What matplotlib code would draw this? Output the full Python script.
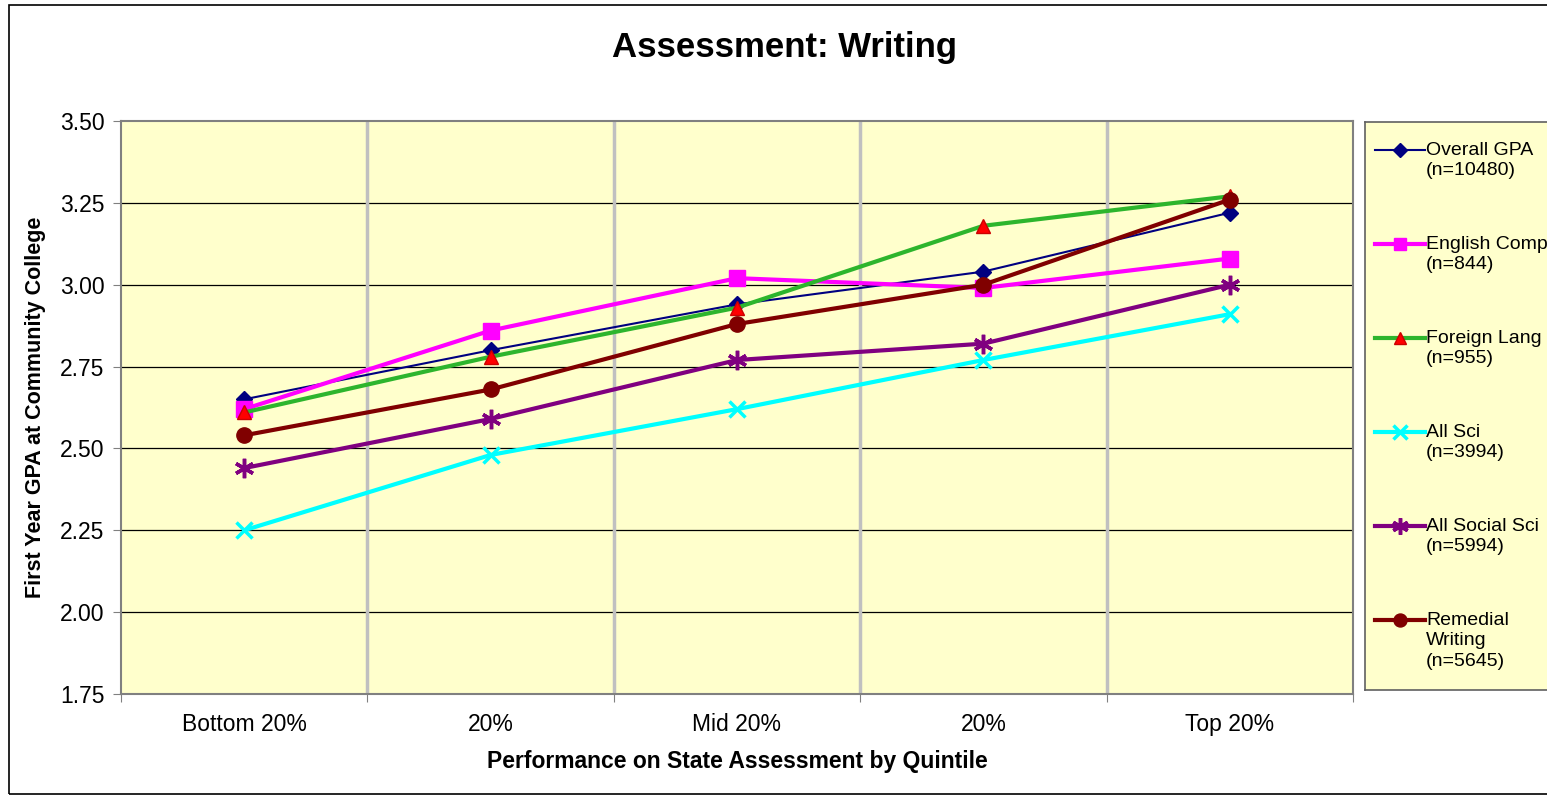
import numpy as np
import matplotlib
matplotlib.use('Agg')
import matplotlib.pyplot as plt
from matplotlib.patches import Rectangle

plt.rcParams['font.family'] = ['Liberation Sans', 'DejaVu Sans']

categorias = ['Bottom 20%', '20%', 'Mid 20%', '20%', 'Top 20%']
yticks = [1.75, 2.00, 2.25, 2.50, 2.75, 3.00, 3.25, 3.50]

overall = [2.65, 2.80, 2.94, 3.04, 3.22]
english = [2.62, 2.86, 3.02, 2.99, 3.08]
foreign = [2.61, 2.78, 2.93, 3.18, 3.27]
allsci = [2.25, 2.48, 2.62, 2.77, 2.91]
social = [2.44, 2.59, 2.77, 2.82, 3.00]
remedial = [2.54, 2.68, 2.88, 3.00, 3.26]

rotulos = ['Overall GPA\n(n=10480)', 'English Comp\n(n=844)', 'Foreign Lang\n(n=955)',
           'All Sci\n(n=3994)', 'All Social Sci\n(n=5994)', 'Remedial\nWriting\n(n=5645)']

asterisco = (6, 2, 0)
estilos = [
    dict(color='#000080', lw=1.5, marker='D', ms=8),
    dict(color='#FF00FF', lw=3, marker='s', ms=11),
    dict(color='#2DB52D', lw=3, marker='^', ms=10, mfc='#FF0000', mec='#CC0000'),
    dict(color='#00FFFF', lw=3, marker='x', ms=12, mew=2.5),
    dict(color='#800080', lw=3, marker=asterisco, ms=14, mew=2.5),
    dict(color='#800000', lw=3, marker='o', ms=11),
]
series = [overall, english, foreign, allsci, social, remedial]

fig = plt.figure(figsize=(15.47, 7.96), dpi=100)
ax = fig.add_axes([121/1547, 1-694/796, (1353-121)/1547, (694-121)/796])
ax.set_facecolor('#FFFFCC')

x = np.arange(len(categorias)) + 0.5
for vals, est in zip(series, estilos):
    ax.plot(x, vals, zorder=3, **est)

ax.set_xlim(0, 5)
ax.set_ylim(1.75, 3.5)
ax.set_yticks(yticks)
ax.set_yticklabels(['%.2f' % v for v in yticks], fontsize=16.5)
ax.set_xticks(np.arange(6))
ax.set_xticklabels([])
ax.set_xticks(x, minor=True)
ax.set_xticklabels(categorias, minor=True, fontsize=16.5)
ax.tick_params(axis='x', which='minor', length=0, pad=14)
ax.tick_params(axis='x', which='major', length=6, color='#808080')
ax.tick_params(axis='y', length=6, color='#808080', pad=6)

for v in yticks[1:-1]:
    ax.axhline(v, color='black', lw=0.9, zorder=1)
for v in range(1, 5):
    ax.axvline(v, color='#C0C0C0', lw=2.5, zorder=1)
for s in ax.spines.values():
    s.set_color('#808080')
    s.set_linewidth(1.5)

ax.set_xlabel('Performance on State Assessment by Quintile', fontsize=16.5, fontweight='bold', labelpad=10)
ax.set_ylabel('First Year GPA at Community College', fontsize=15.5, fontweight='bold', labelpad=10)
fig.text(0.507, 1-47/796, 'Assessment: Writing', fontsize=25, fontweight='bold', ha='center', va='center')

# legenda desenhada a mao (caixa cortada na borda direita, como no original)
lax = fig.add_axes([1365/1547, 1-690/796, 250/1547, (690-122)/796])
lax.set_facecolor('#FFFFCC')
lax.set_xlim(0, 250)
lax.set_ylim(568, 0)
lax.set_xticks([])
lax.set_yticks([])
for s in lax.spines.values():
    s.set_color('#606060')
    s.set_linewidth(1.2)
so_linha = ('color', 'lw')
for i, (rot, est) in enumerate(zip(rotulos, estilos)):
    yy = 28 + 94 * i
    lax.plot([10, 60], [yy, yy], **{k: v for k, v in est.items() if k in so_linha})
    e2 = dict(est)
    e2['ms'] = est['ms'] * 0.85
    lax.plot([35], [yy], **e2)
    lax.text(61, yy - 8, rot, fontsize=14, va='top', ha='left', linespacing=1.25)

fig.add_artist(Rectangle((9/1547, 2/796), 1.2, 1-7/796, transform=fig.transFigure,
                         fill=False, edgecolor='black', lw=1.2))

plt.savefig('out.png', dpi=100)
